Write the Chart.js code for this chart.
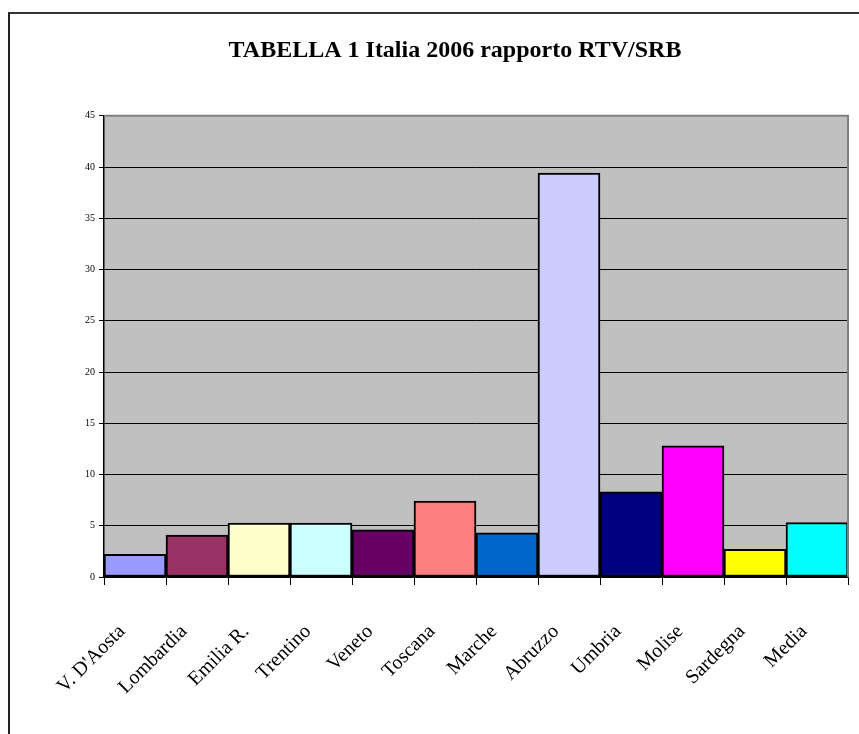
<!DOCTYPE html>
<html>
<head>
<meta charset="utf-8">
<script src="https://cdn.jsdelivr.net/npm/chart.js@4.4.1/dist/chart.umd.min.js"></script>
<style>
  html, body { margin: 0; padding: 0; background: #fff; }
  #wrap { position: relative; width: 859px; height: 734px; }
  #frame {
    position: absolute; left: 8px; top: 12px; width: 851px; height: 722px;
    border-left: 2px solid #222; border-top: 2px solid #333; box-sizing: border-box;
    pointer-events: none;
  }
</style>
</head>
<body>
<div id="wrap">
  <canvas id="chart" width="859" height="734"></canvas>
  <div id="frame"></div>
</div>
<script>
// Regions and their RTV/SRB ratio
const regions = ['V. D\'Aosta', 'Lombardia', 'Emilia R.', 'Trentino', 'Veneto', 'Toscana',
  'Marche', 'Abruzzo', 'Umbria', 'Molise', 'Sardegna', 'Media'];
const ratios = [2.2, 4.1, 5.25, 5.25, 4.6, 7.4, 4.3, 39.4, 8.3, 12.8, 2.7, 5.3];
const barColors = ['#9999FF', '#993366', '#FFFFCC', '#CCFFFF', '#660066', '#FF8080',
  '#0066CC', '#CCCCFF', '#000080', '#FF00FF', '#FFFF00', '#00FFFF'];
const yTicks = [0, 5, 10, 15, 20, 25, 30, 35, 40, 45];

// grey plot area with the darker top/right edge, like the old Excel look
const plotBackground = {
  id: 'plotBackground',
  beforeDraw(chart) {
    const { ctx, chartArea: a } = chart;
    ctx.save();
    ctx.fillStyle = '#C0C0C0';
    ctx.fillRect(a.left, a.top, a.right - a.left, a.bottom - a.top);
    ctx.restore();
  },
  afterDatasetsDraw(chart) {
    const { ctx, chartArea: a } = chart;
    ctx.save();
    ctx.strokeStyle = '#808080';
    ctx.lineWidth = 2;
    ctx.beginPath();
    ctx.moveTo(a.left, a.top);
    ctx.lineTo(a.right, a.top);
    ctx.lineTo(a.right, a.bottom);
    ctx.stroke();
    ctx.restore();
  }
};

new Chart(document.getElementById('chart'), {
  type: 'bar',
  data: {
    labels: regions,
    datasets: [{
      data: ratios,
      backgroundColor: barColors,
      borderColor: '#000',
      borderWidth: 2,
      borderSkipped: false,
      categoryPercentage: 1,
      barPercentage: 1
    }]
  },
  options: {
    responsive: false,
    animation: false,
    layout: { padding: { left: 62, right: 11, top: 0, bottom: 0 } },
    plugins: {
      legend: { display: false },
      tooltip: { enabled: false },
      title: {
        display: true,
        text: 'TABELLA 1 Italia 2006 rapporto RTV/SRB',
        color: '#000',
        font: { family: 'Liberation Serif', size: 24, weight: 'bold' },
        padding: { top: 36, bottom: 51 }
      }
    },
    scales: {
      x: {
        grid: { drawOnChartArea: false, color: '#000', tickLength: 8, offset: true },
        border: { color: '#000', width: 1.5 },
        ticks: {
          autoSkip: false, minRotation: 45, maxRotation: 45,
          padding: 35, labelOffset: -13,
          color: '#000',
          font: { family: 'Liberation Serif', size: 20 }
        },
        afterFit(scale) {
          scale.height = 157;
          // rotated labels stay inside the frame, no extra side room needed
          scale.paddingLeft = 0;
          scale.paddingRight = 0;
        }
      },
      y: {
        min: 0, max: 45,
        afterBuildTicks(scale) { scale.ticks = yTicks.map(v => ({ value: v })); },
        grid: { color: '#000', lineWidth: 1, tickLength: 5 },
        border: { color: '#000', width: 1.5 },
        ticks: {
          padding: 4,
          color: '#000',
          font: { family: 'Liberation Serif', size: 10 }
        },
        afterFit(scale) { scale.width = 42; }
      }
    }
  },
  plugins: [plotBackground]
});
</script>
</body>
</html>
